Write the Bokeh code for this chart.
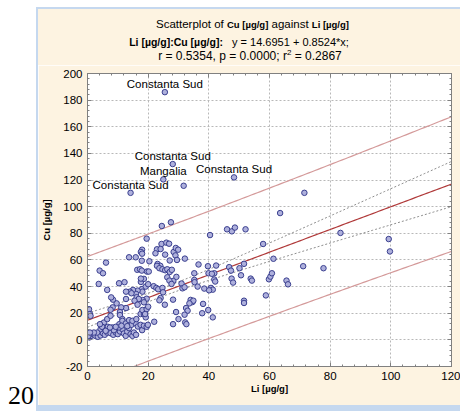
import numpy as np
from bokeh.plotting import figure
from bokeh.models import (ColumnDataSource, LinearAxis, SingleIntervalTicker, Range1d, Div,
                          CustomJSTickFormatter)
from bokeh.layouts import row, column
from bokeh.embed import file_html
from bokeh.resources import INLINE
from bokeh.core.properties import value

# ---------------- data ----------------
# first five points carry labels
li = [25.5, 28.1, 25.0, 48.3, 14.2, 31.7, 71.5, 63.5,
      46.0, 47.6, 48.6, 52.1, 57.9, 83.4, 99.3, 99.7, 61.3, 51.6, 50.1, 50.6, 47.5, 48.0,
      53.8, 54.2, 59.8, 60.3, 60.8, 65.6, 66.1, 71.1, 77.8, 58.8, 51.6, 51.6, 40.4,
      19.5, 24.5, 27.5, 24.4, 26.0, 26.9, 18.0, 17.6, 18.0, 22.9, 24.1, 28.4, 29.1, 29.9,
      25.6, 22.4, 13.7, 15.9, 32.1, 29.0, 29.5, 27.1, 20.4, 17.9, 6.1,
      4.0, 5.1, 16.4, 17.3, 17.9, 19.6, 20.2, 23.1, 24.0, 22.9, 23.7, 24.7, 25.6, 26.3,
      27.1, 27.8, 36.6, 39.7, 42.4, 41.8, 39.9, 41.0, 35.2, 35.2, 35.3, 46.7, 47.3, 41.8,
      42.1, 40.7, 41.3, 36.3, 38.5, 40.1, 34.0, 34.6, 34.9, 33.6, 38.1, 37.8, 39.8, 41.3,
      31.0, 31.3, 28.3, 29.3, 32.0, 26.3, 27.0, 27.7, 21.8, 22.7, 23.3, 24.7, 24.9, 24.1,
      23.7, 25.5, 28.2, 29.2, 30.0, 28.2, 32.5, 33.0, 32.0, 32.2, 32.6, 22.0,
      18.0, 18.1, 19.2, 20.0, 19.5, 18.2, 17.6, 18.6, 17.6, 16.5, 16.0, 15.0, 14.0, 12.7,
      14.5, 16.2, 16.9, 15.5, 16.5, 12.7, 12.7, 11.1, 10.7, 10.7, 11.5, 9.6, 8.4, 7.8,
      8.3, 7.6, 6.5, 10.4, 12.2, 3.7, 0.5, 0.8, 1.0,
      0.6, 1.2, 1.9, 2.6, 3.4, 4.3, 5.1, 5.7, 6.5, 7.1, 7.6, 8.5, 9.3, 9.6, 10.0, 10.7,
      11.5, 12.0, 12.6, 13.1, 13.7, 14.2, 14.8, 15.3, 16.0, 14.5, 15.9, 16.6, 17.5, 18.0,
      18.6, 19.5, 19.9, 4.3, 5.4, 6.7, 8.2, 3.2, 2.1, 10.5, 11.5, 12.6, 13.7, 14.8, 16.1,
      17.5, 18.6, 18.1, 19.2, 5.4, 4.8, 0.3, 0.8, 8.7, 10.4, 13.1, 6.0, 7.4, 9.3, 11.2,
      4.1, 6.5, 7.6, 19.5, 20.0, 19.0, 18.6]
cu = [186.0, 132.0, 120.5, 122.0, 110.4, 115.7, 110.4, 95.2,
      83.0, 81.5, 84.3, 83.0, 72.0, 80.3, 75.7, 66.4, 60.9, 57.1, 53.8, 48.5, 46.0, 43.0,
      46.0, 44.5, 45.5, 47.5, 50.0, 44.5, 41.7, 55.3, 53.8, 33.4, 29.4, 27.7, 78.7,
      76.0, 85.5, 88.3, 72.0, 73.0, 72.2, 67.7, 66.0, 64.7, 68.0, 68.2, 66.0, 69.0, 67.7,
      64.0, 65.0, 62.0, 62.0, 61.0, 63.4, 60.0, 59.6, 59.0, 59.4, 58.0,
      52.0, 50.0, 52.6, 53.0, 52.0, 51.3, 51.3, 57.0, 55.6, 55.6, 53.8, 53.0, 52.3, 53.0,
      51.0, 52.6, 56.6, 55.3, 55.8, 50.0, 50.0, 49.6, 50.0, 45.0, 43.3, 54.6, 52.0, 45.3,
      43.8, 39.0, 37.7, 40.0, 38.5, 37.2, 30.0, 28.4, 29.4, 27.4, 27.0, 20.0, 22.4, 16.9,
      42.3, 38.7, 44.3, 47.3, 39.5, 47.0, 44.5, 42.0, 40.3, 39.0, 38.0, 39.0, 35.7, 31.4,
      29.7, 26.4, 30.2, 20.9, 15.6, 11.8, 23.9, 21.9, 18.9, 13.1, 11.8, 13.6,
      38.2, 36.2, 40.0, 41.8, 30.9, 29.9, 43.5, 45.8, 46.0, 37.0, 34.5, 37.5, 36.2, 36.2,
      35.0, 32.0, 30.7, 29.4, 26.4, 30.7, 23.9, 24.4, 20.9, 18.6, 15.6, 27.4, 30.2, 31.9,
      24.4, 22.6, 37.5, 42.5, 43.3, 42.0, 23.0, 19.4, 18.0,
      1.8, 3.0, 4.3, 3.0, 2.3, 3.3, 5.0, 3.8, 5.5, 7.3, 5.0, 3.8, 5.5, 7.8, 4.3, 6.3,
      8.0, 4.8, 3.0, 6.3, 8.8, 4.3, 3.0, 5.5, 3.8, 11.3, 12.3, 10.0, 11.3, 7.3,
      10.6, 9.8, 11.3, 8.0, 8.8, 9.8, 9.3, 5.5, 5.5, 11.8, 14.3, 12.3, 14.8, 14.3, 15.6,
      19.4, 19.4, 22.4, 16.9, 13.0, 9.8, 3.0, 5.5, 7.3, 9.3, 10.3, 6.8, 9.3, 9.8, 10.6,
      11.8, 15.6, 18.1, 23.1, 24.9, 19.4, 28.2]
point_labels = ["Constanta Sud", "Constanta Sud", "Mangalia", "Constanta Sud", "Constanta Sud"]

intercept = 14.6951
slope = 0.8524
r_value = 0.5354
p_value = 0.0000
r_squared = 0.2867

x_name = "Li [µg/g]"
y_name = "Cu [µg/g]"
x_lo, x_hi, x_step = 0, 120, 20
y_lo, y_hi, y_step = -20, 200, 20

# ---------------- styles ----------------
CREAM = "#fdf3e1"
BLUE = "#c5d8ef"
FONT = "Liberation Sans"
AXC = "#808080"

W = 422
TITLE_H = 56
H = 340
ML, MR, MT, MB = 49, 9, 8, 39

p = figure(width=W, height=H, x_range=Range1d(x_lo, x_hi), y_range=Range1d(y_lo, y_hi),
           output_backend="svg", toolbar_location=None,
           min_border_left=ML, min_border_right=MR, min_border_top=MT, min_border_bottom=MB,
           background_fill_color="white", border_fill_color=CREAM,
           outline_line_color=AXC, outline_line_width=1)

xt = SingleIntervalTicker(interval=x_step, num_minor_ticks=5)
yt = SingleIntervalTicker(interval=y_step, num_minor_ticks=5)

def style_axis(ax, labels=True):
    ax.axis_line_color = AXC
    ax.major_tick_line_color = AXC
    ax.minor_tick_line_color = AXC
    ax.major_tick_in = 4
    ax.major_tick_out = 0
    ax.minor_tick_in = 2
    ax.minor_tick_out = 0
    if labels:
        ax.major_label_text_font = FONT
        ax.major_label_text_font_size = "11.5px"
        ax.major_label_text_color = "black"
        ax.major_label_standoff = 5
        ax.axis_label_text_font = FONT
        ax.axis_label_text_font_style = "bold"
        ax.axis_label_text_font_size = "9.5px"
        ax.axis_label_text_color = "black"
    else:
        ax.formatter = CustomJSTickFormatter(code="return '';")
        ax.major_label_standoff = 0

p.xaxis.ticker = xt
p.yaxis.ticker = yt
style_axis(p.xaxis[0])
style_axis(p.yaxis[0])
p.xaxis.axis_label = x_name
p.yaxis.axis_label = y_name
p.xaxis.axis_label_standoff = 0
p.yaxis.axis_label_standoff = 8
p.yaxis.major_label_overrides = {y_lo: str(y_lo)}

ra = LinearAxis(ticker=yt)
style_axis(ra, labels=False)
p.add_layout(ra, "right")
ta = LinearAxis(ticker=xt)
style_axis(ta, labels=False)
p.add_layout(ta, "above")

p.xgrid.ticker = xt
p.ygrid.ticker = yt
for g in (p.xgrid[0], p.ygrid[0]):
    g.grid_line_color = "#b8b8b8"
    g.grid_line_dash = "2 2"
    g.grid_line_width = 1

# ---------------- regression + bands ----------------
xa = np.asarray(li, float)
ya = np.asarray(cu, float)
n = len(xa)
xm = xa.mean()
sxx = ((xa - xm) ** 2).sum()
resid = ya - (intercept + slope * xa)
s = np.sqrt((resid ** 2).sum() / (n - 2))
tval = 1.97
xs = np.linspace(x_lo, x_hi, 121)
fit = intercept + slope * xs
conf = tval * s * np.sqrt(1.0 / n + (xs - xm) ** 2 / sxx)
pred = tval * s * np.sqrt(1 + 1.0 / n + (xs - xm) ** 2 / sxx)

p.line(xs, fit + pred, line_color="#d49a9a", line_width=1.2)
p.line(xs, fit - pred, line_color="#d49a9a", line_width=1.2)
p.line(xs, fit + conf, line_color="#8c8c8c", line_width=1, line_dash="2 2")
p.line(xs, fit - conf, line_color="#8c8c8c", line_width=1, line_dash="2 2")
p.line(xs, fit, line_color="#b03a3a", line_width=1.2)

src = ColumnDataSource(dict(x=li, y=cu))
p.scatter("x", "y", source=src, marker="circle", size=5.5,
          fill_color="#aeb0dc", line_color="#3a3f8f", line_width=1)

lab_src = ColumnDataSource(dict(x=li[:len(point_labels)], y=cu[:len(point_labels)], t=point_labels))
p.text("x", "y", text="t", source=lab_src, text_align="center", text_baseline="middle",
       y_offset=-8, text_font=value(FONT), text_font_size="11.5px", text_color="black")

# ---------------- title block ----------------
reg = f"font-family:'{FONT}',Arial,sans-serif;font-size:11.5px;color:black;"
reg2 = f"font-family:'{FONT}',Arial,sans-serif;font-size:11px;color:black;"
reg3 = f"font-family:'{FONT}',Arial,sans-serif;font-size:12px;color:black;"
bld = f"font-family:'{FONT}',Arial,sans-serif;font-size:9.5px;font-weight:bold;color:black;"
bld2 = f"font-family:'{FONT}',Arial,sans-serif;font-size:10.5px;font-weight:bold;color:black;"
title_html = (
    f'<div style="width:{W}px;height:{TITLE_H}px;padding-top:8px;box-sizing:border-box;'
    f'text-align:center;white-space:nowrap;">'
    f'<div style="line-height:14px;padding-left:7px;{reg}">Scatterplot of '
    f'<span style="{bld}">{y_name}</span> against <span style="{bld}">{x_name}</span></div>'
    f'<div style="line-height:14px;margin-top:3px;padding-right:20px;{reg2}">'
    f'<span style="{bld2}">{x_name}:{y_name}:</span>&nbsp;&nbsp; '
    f'y = {intercept:.4f} + {slope:.4f}*x;</div>'
    f'<div style="line-height:14px;margin-top:0px;padding-left:2px;{reg3}">'
    f'r = {r_value:.4f}, p = {p_value:.4f}; r<sup style="font-size:8px;line-height:0;">2</sup>'
    f' = {r_squared:.4f}</div></div>'
)
title_div = Div(text=title_html, width=W, height=TITLE_H, margin=0,
                styles={"background-color": CREAM})

# ---------------- page layout ----------------
side = Div(text='<div style="margin-top:388px;padding-left:8px;font-family:\'Liberation Serif\',serif;'
                'font-size:26px;line-height:16px;color:black;">20</div>',
           width=36, height=411, margin=0, styles={"background-color": "white"})
vgap = Div(text="", width=2, height=7, margin=0, styles={"background-color": "white"})
vline = Div(text="", width=2, height=404, margin=0, styles={"background-color": BLUE})
top_gap = Div(text="", width=W, height=7, margin=0, styles={"background-color": "white"})
top_bar = Div(text="", width=W, height=2, margin=0, styles={"background-color": BLUE})
bot_bar = Div(text="", width=W, height=6, margin=0, styles={"background-color": BLUE})

layout = row(column(side), column(vgap, vline), column(top_gap, top_bar, title_div, p, bot_bar))
open("out.html", "w").write(file_html(layout, INLINE))
